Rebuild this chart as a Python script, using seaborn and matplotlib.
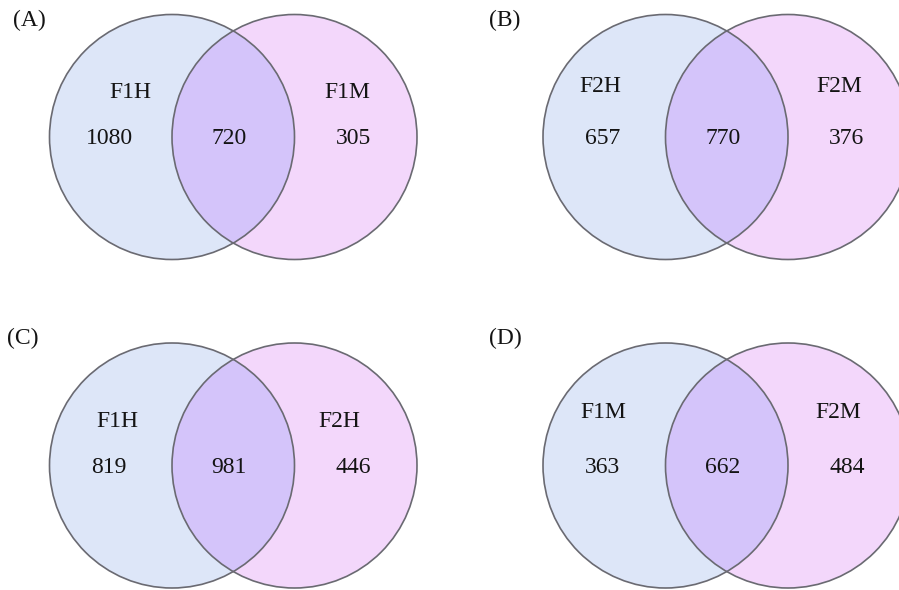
import matplotlib
matplotlib.use("Agg")
import matplotlib.pyplot as plt
from matplotlib.patches import Circle
import seaborn as sns

# Pairwise overlaps between the four sample groups
panel_tags = ["(A)", "(B)", "(C)", "(D)"]
left_sets = ["F1H", "F2H", "F1H", "F1M"]
right_sets = ["F1M", "F2M", "F2H", "F2M"]
left_only = [1080, 657, 819, 363]
shared = [720, 770, 981, 662]
right_only = [305, 376, 446, 484]

sns.set_theme(style="white")
plt.rcParams["font.family"] = ["Liberation Serif", "DejaVu Serif"]

LEFT_FILL = "#dde6f8"
RIGHT_FILL = "#f3d7fb"
BOTH_FILL = "#d4c4fa"
EDGE = "#6a6a72"
INK = "#141414"

# panel layout in pixel units: left-circle centre, label offsets
R = 122.5
centres = [(172, 137), (665.5, 137), (172, 465.5), (665.5, 465.5)]
tag_pos = [(13, 20), (489, 20), (7, 338), (489, 338)]
left_name_off = [(-42, -45), (-65, -51), (-55, -44), (-62, -53)]
right_name_off = [(53, -45), (51, -51), (45, -44), (50, -53)]

fig = plt.figure(figsize=(8.99, 5.90), dpi=100)
ax = fig.add_axes([0, 0, 1, 1])
ax.set_xlim(0, 899)
ax.set_ylim(590, 0)
ax.set_aspect("equal")
ax.axis("off")

fs = 17
for i in range(len(panel_tags)):
    cx, cy = centres[i]
    rx = cx + R
    left = Circle((cx, cy), R, facecolor=LEFT_FILL, edgecolor="none", zorder=1)
    right = Circle((rx, cy), R, facecolor=RIGHT_FILL, edgecolor="none", zorder=1)
    ax.add_patch(left)
    ax.add_patch(right)
    both = Circle((rx, cy), R, facecolor=BOTH_FILL, edgecolor="none", zorder=2)
    ax.add_patch(both)
    both.set_clip_path(left)
    for x0 in (cx, rx):
        ax.add_patch(Circle((x0, cy), R, facecolor="none", edgecolor=EDGE,
                            linewidth=1.2, zorder=3))

    ax.text(tag_pos[i][0], tag_pos[i][1], panel_tags[i], fontsize=fs,
            ha="left", va="center", color=INK)
    lo = left_name_off[i]
    ro = right_name_off[i]
    ax.text(cx + lo[0], cy + lo[1], left_sets[i], fontsize=fs,
            ha="center", va="center", color=INK, zorder=4)
    ax.text(rx + ro[0], cy + ro[1], right_sets[i], fontsize=fs,
            ha="center", va="center", color=INK, zorder=4)
    ax.text(cx - 63, cy + 2, str(left_only[i]), fontsize=fs,
            ha="center", va="center", color=INK, zorder=4)
    ax.text((cx + rx) / 2 - 4, cy + 2, str(shared[i]), fontsize=fs,
            ha="center", va="center", color=INK, zorder=4)
    ax.text(rx + 59, cy + 2, str(right_only[i]), fontsize=fs,
            ha="center", va="center", color=INK, zorder=4)

fig.savefig("out.png", dpi=100, facecolor="white")
